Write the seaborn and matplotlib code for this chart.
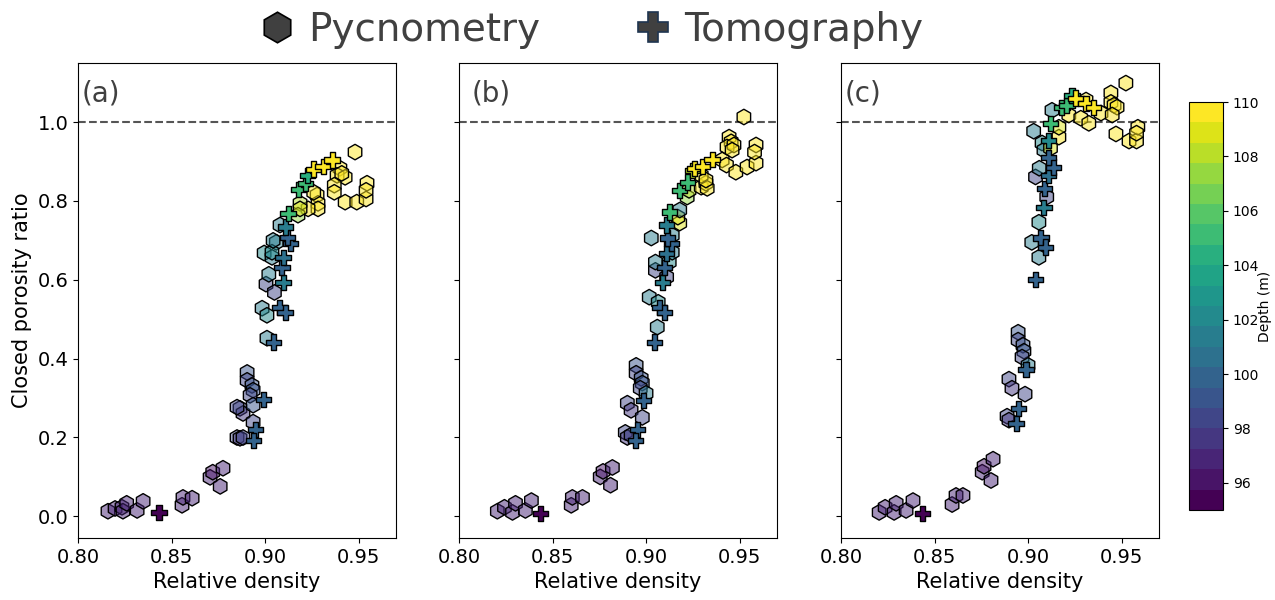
import numpy as np
import pandas as pd
import matplotlib
matplotlib.use('Agg')
import matplotlib.pyplot as plt
import seaborn as sns
from matplotlib.colors import Normalize
from matplotlib.cm import ScalarMappable
from matplotlib.lines import Line2D

# ---- panel (a) ----
pyc_x_a = [0.816, 0.8198, 0.8235, 0.824, 0.826, 0.8316, 0.8348,
           0.8556, 0.8561, 0.861, 0.8706, 0.872, 0.8775, 0.876,
           0.8904, 0.8904, 0.893, 0.8936, 0.892, 0.8866, 0.8882, 0.885, 0.8936, 0.885, 0.8866, 0.8882, 0.8936,
           0.901, 0.8984, 0.901, 0.9005, 0.905, 0.902, 0.8995, 0.9037, 0.906, 0.9037, 0.9043, 0.908,
           0.9481, 0.940, 0.9385, 0.9428, 0.941, 0.937, 0.937, 0.9428, 0.949, 0.954, 0.9545, 0.954,
           0.9278, 0.9283, 0.9283, 0.926, 0.923, 0.9187, 0.9176, 0.9187]
pyc_y_a = [0.013, 0.02, 0.023, 0.013, 0.033, 0.015, 0.038,
           0.028, 0.048, 0.046, 0.099, 0.112, 0.122, 0.076,
           0.365, 0.345, 0.332, 0.32, 0.307, 0.274, 0.261, 0.277, 0.239, 0.2, 0.198, 0.2, 0.282,
           0.452, 0.528, 0.51, 0.589, 0.568, 0.614, 0.668, 0.657, 0.695, 0.67, 0.70, 0.739,
           0.924, 0.883, 0.865, 0.86, 0.87, 0.84, 0.822, 0.797, 0.797, 0.805, 0.845, 0.827,
           0.815, 0.794, 0.78, 0.822, 0.78, 0.794, 0.764, 0.78]
pyc_d_a = [96.5, 96.8, 96.5, 96.6, 96.7, 96.6, 96.5,
           96.7, 96.6, 96.8, 96.6, 96.3, 96.8, 96.7,
           99.0, 98.5, 98.8, 99.2, 98.2, 98.0, 97.8, 98.0, 98.0, 98.5, 97.8, 98.0, 98.8,
           101.5, 101.5, 101.8, 98.0, 98.0, 101.0, 101.8, 101.2, 101.5, 101.8, 101.5, 101.0,
           109.6, 109.5, 109.5, 109.6, 109.4, 109.5, 109.6, 109.5, 109.5, 109.6, 109.5, 109.4,
           109.5, 109.6, 109.5, 109.4, 109.5, 108.0, 107.5, 109.0]
tomo_x_a = [0.8433, 0.899, 0.8947, 0.8936, 0.9043, 0.9075, 0.9107, 0.9096, 0.909, 0.9096,
            0.9134, 0.912, 0.911, 0.9123, 0.918, 0.9214, 0.9225, 0.9257, 0.931, 0.9358]
tomo_y_a = [0.01, 0.297, 0.221, 0.193, 0.442, 0.53, 0.518, 0.594, 0.632, 0.657,
            0.693, 0.708, 0.734, 0.769, 0.83, 0.845, 0.865, 0.881, 0.888, 0.904]
tomo_d_a = [95.2, 99.8, 99.8, 99.6, 99.8, 99.6, 99.8, 101.5, 100.0, 100.5,
            99.8, 100.2, 101.2, 104.8, 104.8, 105.2, 104.5, 109.6, 109.6, 109.8]

# ---- panel (b) ----
pyc_x_b = [0.8205, 0.8243, 0.8286, 0.8302, 0.8355, 0.8387,
           0.86, 0.8606, 0.866, 0.8755, 0.877, 0.882, 0.881,
           0.8947, 0.8947, 0.8974, 0.898, 0.8969, 0.90, 0.890, 0.892, 0.898, 0.8889, 0.890, 0.892,
           0.906, 0.9017, 0.9065, 0.9028, 0.905, 0.905, 0.9124, 0.911, 0.914, 0.914, 0.918, 0.917, 0.918, 0.922, 0.923,
           0.9295, 0.932, 0.9327, 0.9295, 0.932, 0.9523, 0.9444, 0.9455, 0.9433, 0.947, 0.946,
           0.9407, 0.943, 0.948, 0.954, 0.9588, 0.9588, 0.958]
pyc_y_b = [0.013, 0.023, 0.01, 0.033, 0.015, 0.04,
           0.028, 0.048, 0.048, 0.10, 0.114, 0.124, 0.079,
           0.383, 0.363, 0.35, 0.338, 0.325, 0.312, 0.287, 0.269, 0.251, 0.213, 0.2, 0.206,
           0.48, 0.556, 0.543, 0.706, 0.624, 0.645, 0.645, 0.607, 0.67, 0.713, 0.744, 0.759, 0.777, 0.81, 0.827,
           0.835, 0.845, 0.832, 0.865, 0.853, 1.013, 0.962, 0.95, 0.937, 0.942, 0.929,
           0.904, 0.891, 0.873, 0.886, 0.896, 0.942, 0.924]
pyc_d_b = [96.5, 96.7, 96.6, 96.7, 96.6, 96.5,
           96.7, 96.6, 96.8, 96.6, 96.3, 96.8, 96.7,
           99.0, 98.5, 98.8, 99.2, 98.2, 101.0, 98.0, 97.8, 98.0, 98.5, 97.8, 98.0,
           101.5, 101.5, 101.8, 101.5, 98.0, 101.2, 101.8, 98.0, 101.5, 101.5, 109.0, 109.2, 101.5, 107.5, 108.0,
           109.5, 109.5, 109.4, 109.6, 109.5, 109.6, 109.5, 109.4, 109.5, 109.6, 109.5,
           109.5, 109.4, 109.5, 109.6, 109.5, 109.5, 109.4]
tomo_x_b = [0.8435, 0.8985, 0.8953, 0.8942, 0.9044, 0.907, 0.910, 0.909, 0.9097, 0.9108,
            0.9135, 0.9113, 0.9108, 0.9124, 0.918, 0.922, 0.9247, 0.9258, 0.930, 0.9353]
tomo_y_b = [0.008, 0.294, 0.221, 0.193, 0.442, 0.53, 0.518, 0.594, 0.632, 0.667,
            0.693, 0.706, 0.739, 0.772, 0.827, 0.848, 0.878, 0.883, 0.888, 0.906]
tomo_d_b = [95.2, 99.8, 99.8, 99.6, 99.8, 99.6, 99.8, 101.5, 100.0, 100.5,
            99.8, 100.2, 101.2, 104.8, 104.8, 105.2, 108.0, 109.6, 109.6, 109.8]

# ---- panel (c) ----
pyc_x_c = [0.8204, 0.8236, 0.8284, 0.8295, 0.8348, 0.8385,
           0.8594, 0.8615, 0.8652, 0.8755, 0.8765, 0.8813, 0.8802,
           0.8947, 0.8947, 0.8973, 0.8978, 0.8968, 0.90, 0.8898, 0.8914, 0.8984, 0.8888, 0.8898,
           0.9058, 0.902, 0.9058, 0.904, 0.906, 0.91, 0.903, 0.9075, 0.9085, 0.912, 0.9165, 0.9165, 0.9128,
           0.9218, 0.9282, 0.9325, 0.931, 0.939, 0.9443, 0.9443, 0.946, 0.9476, 0.945, 0.9523,
           0.947, 0.954, 0.958, 0.9587, 0.958]
pyc_y_c = [0.01, 0.023, 0.01, 0.033, 0.015, 0.04,
           0.03, 0.053, 0.053, 0.112, 0.127, 0.145, 0.091,
           0.467, 0.447, 0.434, 0.419, 0.404, 0.383, 0.348, 0.325, 0.31, 0.254, 0.244,
           0.657, 0.695, 0.746, 0.861, 0.883, 0.81, 0.977, 0.947, 0.929, 0.934, 0.962, 0.987, 1.03,
           1.018, 1.01, 0.997, 1.056, 1.023, 1.074, 1.05, 1.043, 1.038, 1.018, 1.099,
           0.97, 0.952, 0.952, 0.987, 0.972]
pyc_d_c = [96.5, 96.7, 96.6, 96.7, 96.6, 96.5,
           96.7, 96.6, 96.8, 96.6, 96.3, 96.8, 96.7,
           99.0, 98.5, 98.8, 99.2, 98.2, 101.0, 98.0, 97.8, 98.0, 98.5, 97.8,
           101.5, 101.5, 101.8, 98.0, 101.5, 98.0, 101.5, 101.8, 101.2, 109.0, 109.5, 109.2, 101.5,
           109.5, 109.5, 109.4, 109.6, 109.5, 109.5, 109.6, 109.4, 109.5, 109.5, 109.6,
           109.5, 109.5, 109.4, 109.6, 109.5]
tomo_x_c = [0.8434, 0.8989, 0.8947, 0.8936, 0.904, 0.9069, 0.9095, 0.9085, 0.909, 0.911,
            0.9138, 0.911, 0.911, 0.912, 0.9181, 0.9208, 0.9235, 0.9256, 0.931, 0.935]
tomo_y_c = [0.008, 0.373, 0.274, 0.236, 0.60, 0.706, 0.683, 0.784, 0.832, 0.865,
            0.886, 0.911, 0.954, 0.997, 1.038, 1.043, 1.068, 1.061, 1.048, 1.038]
tomo_d_c = [95.2, 99.8, 99.8, 99.6, 99.8, 99.6, 99.8, 101.5, 100.0, 100.5,
            99.8, 100.2, 101.8, 104.8, 104.8, 105.2, 104.5, 109.6, 109.6, 109.8]

panels = [
    ('(a)', pyc_x_a, pyc_y_a, pyc_d_a, tomo_x_a, tomo_y_a, tomo_d_a, 0.01),
    ('(b)', pyc_x_b, pyc_y_b, pyc_d_b, tomo_x_b, tomo_y_b, tomo_d_b, 0.04),
    ('(c)', pyc_x_c, pyc_y_c, pyc_d_c, tomo_x_c, tomo_y_c, tomo_d_c, 0.01),
]

cmap = plt.get_cmap('viridis', 20)
norm = Normalize(vmin=95, vmax=110)

fig = plt.figure(figsize=(12.75, 6), dpi=100)
lefts = [0.0612, 0.36, 0.6596]
for i, (lab, px, py, pd_, tx, ty, td, lx) in enumerate(panels):
    ax = fig.add_axes([lefts[i], 0.1033, 0.2494, 0.7917])
    pyc = pd.DataFrame({'density': px, 'ratio': py, 'depth': pd_})
    tomo = pd.DataFrame({'density': tx, 'ratio': ty, 'depth': td})

    ax.axhline(1.0, color='#555555', linestyle='--', linewidth=1.5, zorder=1)

    sns.scatterplot(data=pyc, x='density', y='ratio', hue='depth', palette=cmap,
                    hue_norm=norm, marker='h', s=125, edgecolor='black',
                    linewidth=1.0, legend=False, ax=ax, zorder=2)
    # faded faces, solid edges
    coll = ax.collections[-1]
    fc = coll.get_facecolors()
    fc[:, 3] = 0.5
    coll.set_facecolors(fc)

    sns.scatterplot(data=tomo, x='density', y='ratio', hue='depth', palette=cmap,
                    hue_norm=norm, marker='P', s=120, edgecolor='black',
                    linewidth=1.0, legend=False, ax=ax, zorder=3)

    ax.set_xlim(0.80, 0.97)
    ax.set_ylim(-0.055, 1.15)
    ax.set_xticks([0.80, 0.85, 0.90, 0.95])
    ax.set_xticklabels(['0.80', '0.85', '0.90', '0.95'])
    ax.tick_params(labelsize=14)
    ax.set_xlabel('Relative density', fontsize=15)
    if i == 0:
        ax.set_ylabel('Closed porosity ratio', fontsize=15)
    else:
        ax.set_ylabel('')
        ax.set_yticklabels([])
    ax.text(lx, 0.965, lab, transform=ax.transAxes, fontsize=20,
            color='#404040', va='top', ha='left')

cax = fig.add_axes([1189 / 1275, 90 / 600, 34 / 1275, 408 / 600])
cb = fig.colorbar(ScalarMappable(norm=norm, cmap=cmap), cax=cax)
cb.set_ticks([96, 98, 100, 102, 104, 106, 108, 110])
cb.ax.tick_params(labelsize=10)
cb.set_label('Depth (m)', fontsize=10, labelpad=-1)

handles = [
    Line2D([], [], marker='h', linestyle='none', markersize=22,
           markerfacecolor='#404040', markeredgecolor='black', markeredgewidth=1.2),
    Line2D([], [], marker='P', linestyle='none', markersize=22,
           markerfacecolor='#404040', markeredgecolor='#1f3550', markeredgewidth=1.2),
]
fig.legend(handles, ['Pycnometry', 'Tomography'], loc='upper center',
           bbox_to_anchor=(0.463, 1.04), ncol=2, frameon=False, fontsize=28,
           labelcolor='#404040', handlelength=1.0, handletextpad=0.3,
           columnspacing=2.4)

fig.savefig('out.png', dpi=100)
